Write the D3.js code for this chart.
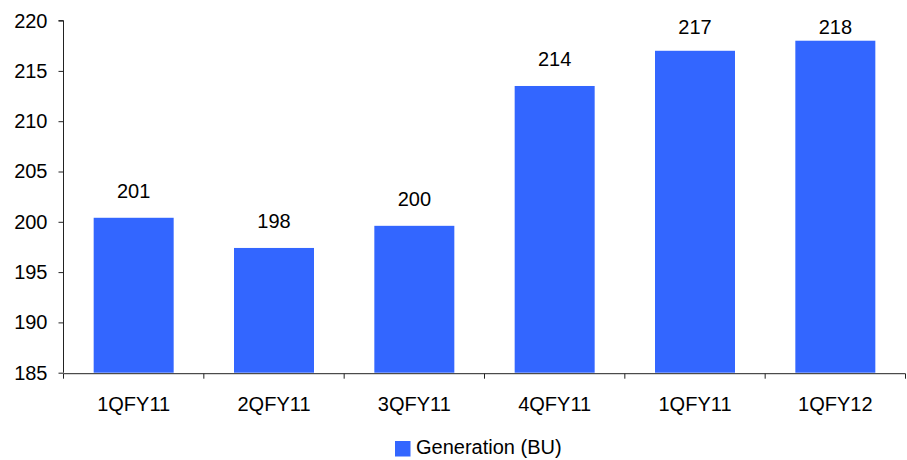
<!DOCTYPE html>
<html>
<head>
<meta charset="utf-8">
<script src="https://cdn.jsdelivr.net/npm/d3@7"></script>
<style>
  html, body { margin: 0; padding: 0; background: #ffffff; }
  svg { display: block; font-family: "Liberation Sans", Arial, sans-serif; }
</style>
</head>
<body>
<svg id="chart" width="907" height="460"></svg>
<script>
// Quarterly generation, billion units
const categories = ["1QFY11", "2QFY11", "3QFY11", "4QFY11", "1QFY11", "1QFY12"];
const generation = [200.4, 197.4, 199.6, 213.5, 217.0, 218.0];
const yTicks = [185, 190, 195, 200, 205, 210, 215, 220];
const seriesName = "Generation (BU)";

(function () {
  const svg = d3.select("#chart");
  const plotLeft = 63.5, plotRight = 905.5, plotTop = 20.6, plotBottom = 372.7;
  const barColor = "#3366ff";
  const axisColor = "#222222";
  const idx = categories.map((c, i) => i);

  const y = d3.scaleLinear().domain([185, 220]).range([plotBottom, plotTop]);

  // bars take 80 of each ~140px slot
  const slot = d3.scaleBand().domain(idx).range([plotLeft, plotRight]).padding(0);
  const barW = 80;
  const bx = i => slot(i) + (slot.bandwidth() - barW) / 2;

  // bars
  svg.append("g")
    .selectAll("rect")
    .data(generation)
    .join("rect")
    .attr("x", (d, i) => bx(i))
    .attr("y", d => y(d))
    .attr("width", barW)
    .attr("height", d => plotBottom - y(d))
    .attr("fill", barColor);

  // value labels
  svg.append("g")
    .selectAll("text")
    .data(generation)
    .join("text")
    .attr("x", (d, i) => bx(i) + barW / 2)
    .attr("y", d => Math.max(y(d) - 20, 34))
    .attr("text-anchor", "middle")
    .attr("font-size", 20)
    .attr("fill", "#000")
    .text(d => Math.ceil(d));

  // y axis
  const yAxis = svg.append("g")
    .attr("transform", `translate(${plotLeft},0)`)
    .call(d3.axisLeft(y).tickValues(yTicks).tickSize(5).tickPadding(11).tickFormat(d3.format("d")));
  yAxis.select(".domain").attr("stroke", axisColor).attr("d", `M-5,${plotTop}H0V${plotBottom}`);
  yAxis.selectAll(".tick line").attr("stroke", axisColor);
  yAxis.selectAll(".tick text")
    .attr("font-size", 20)
    .attr("font-family", "Liberation Sans, Arial, sans-serif")
    .attr("fill", "#000");

  // x axis: labels centred in slots, ticks on slot boundaries
  const xAxis = svg.append("g")
    .attr("transform", `translate(0,${plotBottom + 1})`)
    .call(d3.axisBottom(slot).tickSize(0).tickPadding(23).tickFormat(i => categories[i]));
  xAxis.select(".domain").attr("stroke", axisColor).attr("d", `M${plotLeft},0H${plotRight}`);
  xAxis.selectAll(".tick text")
    .attr("font-size", 20)
    .attr("font-family", "Liberation Sans, Arial, sans-serif")
    .attr("fill", "#000");

  const boundaries = idx.map(i => slot(i)).concat([slot(idx[idx.length - 1]) + slot.bandwidth()]);
  xAxis.append("g")
    .selectAll("line")
    .data(boundaries)
    .join("line")
    .attr("x1", d => d).attr("x2", d => d)
    .attr("y1", 0).attr("y2", 5)
    .attr("stroke", axisColor);

  // legend
  const legend = svg.append("g").attr("transform", "translate(395,441)");
  legend.append("rect").attr("width", 15.5).attr("height", 15.5).attr("fill", barColor);
  legend.append("text")
    .attr("x", 21)
    .attr("y", 12.5)
    .attr("font-size", 20)
    .attr("fill", "#000")
    .text(seriesName);
})();
</script>
</body>
</html>
